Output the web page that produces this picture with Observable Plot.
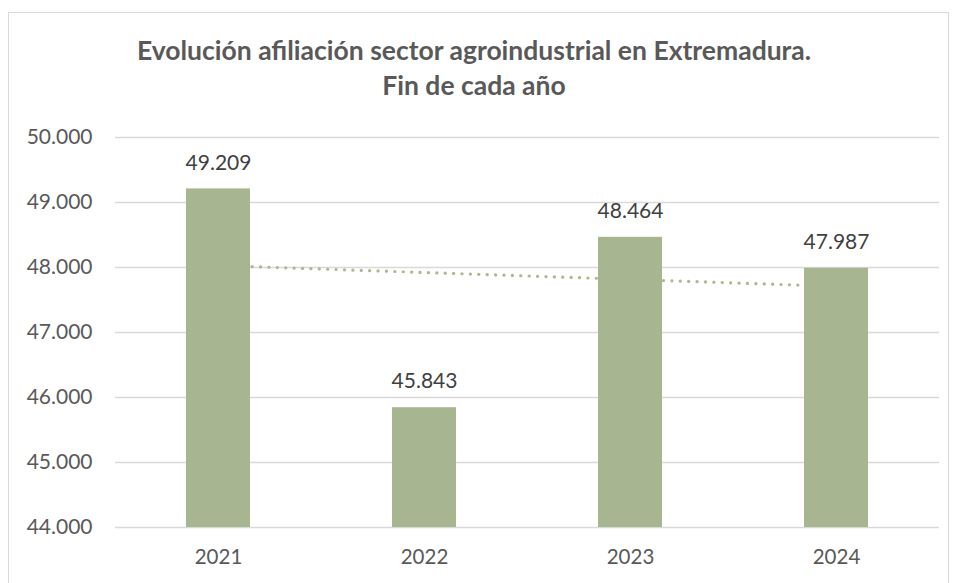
<!DOCTYPE html>
<html><head><meta charset="utf-8">
<script src="https://cdn.jsdelivr.net/npm/d3@7"></script>
<script src="https://cdn.jsdelivr.net/npm/@observablehq/plot@0.6"></script>
<style>
body{margin:0;background:#fff;width:955px;height:583px;overflow:hidden;position:relative;font-family:Lato,"Liberation Sans",sans-serif}
#frame{position:absolute;left:8px;top:12px;width:941px;height:600px;border:1px solid #d9d9d9;box-sizing:border-box}
#title{position:absolute;left:0;width:948px;top:33px;text-align:center;font-weight:bold;font-size:26.5px;line-height:35px;color:#595959}
#chart{position:absolute;left:0;top:0}
</style></head><body>
<div id="frame"></div>
<div id="title">Evolución afiliación sector agroindustrial en Extremadura.<br>Fin de cada año</div>
<div id="chart"></div>
<script>
const years = ["2021", "2022", "2023", "2024"];
const afiliados = [49209, 45843, 48464, 47987];
const trendYears = ["2021", "2024"];
const trendValues = [48030, 47710];
const yTicks = [44000, 45000, 46000, 47000, 48000, 49000, 50000];

const es = d3.formatLocale({decimal: ",", thousands: ".", grouping: [3], currency: ["", " €"]});
const fmt = es.format(",.0f");

const bars = years.map((y, i) => ({year: y, value: afiliados[i]}));
const trend = trendYears.map((y, i) => ({year: y, value: trendValues[i]}));

const chart = Plot.plot({
  width: 955,
  height: 583,
  marginTop: 137,
  marginBottom: 56,
  marginLeft: 115,
  marginRight: 16,
  style: {fontFamily: "Lato, 'Liberation Sans', sans-serif", background: "transparent"},
  x: {domain: years, paddingInner: 0.69, paddingOuter: 0.345, label: null},
  y: {domain: [44000, 50000], ticks: yTicks, label: null},
  marks: [
    Plot.gridY(yTicks, {stroke: "#d9d9d9", strokeOpacity: 1, strokeWidth: 1.3}),
    Plot.axisY({ticks: yTicks, tickFormat: fmt, tickSize: 0, tickPadding: 23, fontSize: 21, fill: "#595959", label: null}),
    Plot.axisX({tickSize: 0, tickPadding: 22, fontSize: 20.5, fill: "#595959", label: null}),
    Plot.line(trend, {x: "year", y: "value", stroke: "#a8ba8e", strokeWidth: 3.2, strokeDasharray: "0.1 8.3", strokeLinecap: "round"}),
    Plot.barY(bars, {x: "year", y1: 44000, y2: "value", fill: "#a7b591"}),
    Plot.text(bars, {x: "year", y: "value", text: d => fmt(d.value), dy: -26, fontSize: 21, fill: "#404040"})
  ]
});
document.getElementById("chart").appendChild(chart);
</script>
</body></html>
